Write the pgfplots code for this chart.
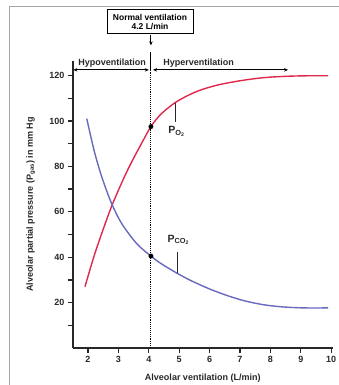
\documentclass[border=0pt]{standalone}
\usepackage{pgfplots}
\pgfplotsset{compat=1.18}
\usepackage{fontspec}
\setmainfont{Liberation Sans}
\usetikzlibrary{arrows.meta}
\definecolor{po2}{RGB}{222,40,78}
\definecolor{pco2}{RGB}{105,105,190}
\definecolor{axc}{RGB}{40,40,40}
\begin{document}
\begin{tikzpicture}[x=1pt,y=1pt]
\path[use as bounding box] (0,0) rectangle (339,385);
\draw[gray!70,line width=1pt] (9,-10) rectangle (360,378);
\begin{axis}[
  at={(72.8pt,37pt)}, anchor=south west,
  scale only axis, width=259.9pt, height=287pt,
  xmin=1.5, xmax=10.05, ymin=0, ymax=126.4,
  axis x line*=bottom, axis y line*=left,
  axis line style={axc, line width=1.5pt},
  every tick/.style={axc, line width=1.3pt},
  tick align=outside, major tick length=5pt, minor tick length=5pt,
  xtick={2,3,4,5,6,7,8,9,10},
  ytick={20,40,60,80,100,120},
  minor ytick={10,30,50,70,90,110},
  /pgf/number format/assume math mode=true,
  tick label style={font=\bfseries\fontsize{9}{10}\selectfont, text=axc},
  xlabel={Alveolar ventilation (L/min)},
  ylabel={Alveolar partial pressure (P\textsubscript{gas}) in mm Hg},
  label style={font=\bfseries\fontsize{9}{10}\selectfont, text=axc},
  xlabel style={at={(axis description cs:0.5,-0.1045)}, anchor=center},
  ylabel style={at={(axis description cs:-0.162,0.5)}, anchor=center},
  clip=false,
]
\addplot[po2, line width=1.4pt, smooth] coordinates {
 (1.9,27) (2.2,40.5) (2.5,52.3) (2.78,62.5) (3.1,72.5) (3.4,81) (3.75,89.8)
 (4.07,97.5) (4.4,103) (4.86,108) (5.3,111.3) (5.7,113.6) (6.2,115.6)
 (6.7,117) (7.3,118.3) (7.9,119.2) (8.6,119.7) (9.3,119.9) (9.9,119.9)};
\addplot[pco2, line width=1.4pt, smooth] coordinates {
 (1.96,101) (2.2,87) (2.45,75.5) (2.75,64.5) (3.1,55) (3.6,46)
 (4.07,40.5) (4.4,37.2) (4.92,33) (5.4,29.6) (6.0,26) (6.6,23) (7.2,20.6)
 (7.8,19) (8.4,18.1) (9.0,17.7) (9.5,17.6) (9.9,17.7)};
\addplot[only marks, mark=*, mark size=2.2pt, black] coordinates {(4.07,97.5) (4.07,40.5)};
% normal ventilation line
\draw[black, densely dotted, line width=0.9pt] (axis cs:4.07,0) -- (axis cs:4.07,122.5);
\draw[black, line width=0.9pt] (axis cs:4.07,122.5) -- (axis cs:4.07,130.4);
\draw[black, line width=0.9pt, -{Stealth[length=4pt,width=3.5pt]}] (axis cs:4.07,138) -- (axis cs:4.07,133.3);
\node[draw=black, line width=1pt, fill=white, minimum width=86pt, minimum height=24pt, inner sep=1pt,
      align=center, font=\bfseries\fontsize{8.5}{9}\selectfont]
  at (axis cs:4.04,143.6) {Normal ventilation\\4.2 L/min};
% arrows
\draw[black, line width=0.9pt, {Stealth[length=4pt,width=3.5pt]}-{Stealth[length=4pt,width=3.5pt]}]
  (axis cs:1.52,122.5) -- (axis cs:4.0,122.5);
\draw[black, line width=0.9pt, {Stealth[length=4pt,width=3.5pt]}-{Stealth[length=4pt,width=3.5pt]}]
  (axis cs:4.14,122.5) -- (axis cs:8.58,122.5);
\node[font=\bfseries\fontsize{9}{10}\selectfont, text=axc, anchor=base] at (axis cs:2.79,124.6) {Hypoventilation};
\node[font=\bfseries\fontsize{9}{10}\selectfont, text=axc, anchor=base west, inner sep=0pt] at (axis cs:4.47,124.6) {Hyperventilation};
% labels
\draw[axc, line width=1pt] (axis cs:4.87,99.7) -- (axis cs:4.87,107.9);
\node[font=\bfseries\fontsize{10.5}{11}\selectfont, text=axc] at (axis cs:4.92,95.3) {P\textsubscript{O\textsubscript{2}}};
\draw[axc, line width=1pt] (axis cs:4.94,33.2) -- (axis cs:4.94,42.4);
\node[font=\bfseries\fontsize{10.5}{11}\selectfont, text=axc] at (axis cs:4.98,47.6) {P\textsubscript{CO\textsubscript{2}}};
\end{axis}
\end{tikzpicture}
\end{document}
